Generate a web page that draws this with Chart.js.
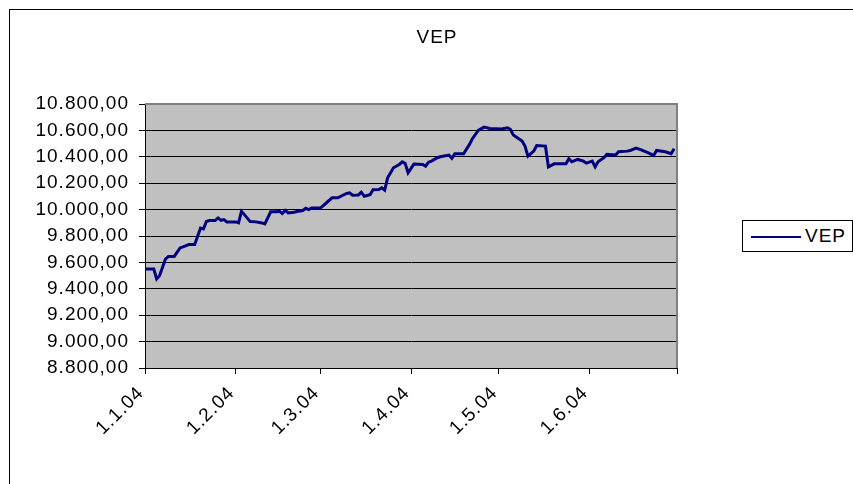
<!DOCTYPE html>
<html>
<head>
<meta charset="utf-8">
<script src="https://cdn.jsdelivr.net/npm/chart.js@4.4.1/dist/chart.umd.min.js"></script>
<style>
  html, body { margin: 0; padding: 0; background: #fff; }
  #wrap { position: relative; width: 853px; height: 484px; overflow: hidden;
          font-family: "Liberation Sans", Arial, sans-serif; color: #000; }
  #frame { position: absolute; left: 9px; top: 9px; width: 900px; height: 520px; border: 1px solid #000; }
  #chart { position: absolute; left: 0; top: 0; }
  #title { position: absolute; left: 0; top: 26px; width: 874px; text-align: center;
           font-size: 19px; letter-spacing: 1px; }
  #legend { position: absolute; left: 742px; top: 220px; width: 111px; height: 32px;
            border: 1px solid #000; box-sizing: border-box; background: #fff; }
  #legend .sample { position: absolute; left: 8px; top: 15px; width: 50px; height: 2px; background: #000080; }
  #legend .label { position: absolute; left: 62px; top: 4px; font-size: 19px; letter-spacing: 1px; }
</style>
</head>
<body>
<div id="wrap">
  <div id="frame"></div>
  <canvas id="chart" width="853" height="484"></canvas>
  <div id="title">VEP</div>
  <div id="legend"><div class="sample"></div><div class="label">VEP</div></div>
</div>
<script>
// ---- data ----
const dates = [
  '2004-01-01','2004-01-04','2004-01-05','2004-01-06','2004-01-08','2004-01-09','2004-01-11','2004-01-13',
  '2004-01-14','2004-01-16','2004-01-18','2004-01-20','2004-01-21','2004-01-22','2004-01-23','2004-01-25',
  '2004-01-26','2004-01-27','2004-01-28','2004-01-29',
  '2004-02-01','2004-02-02','2004-02-03','2004-02-04','2004-02-06','2004-02-08','2004-02-10','2004-02-11',
  '2004-02-13','2004-02-15','2004-02-16','2004-02-17','2004-02-18','2004-02-19','2004-02-21','2004-02-22',
  '2004-02-24','2004-02-25','2004-02-26','2004-02-27',
  '2004-03-01','2004-03-03','2004-03-05','2004-03-07','2004-03-08','2004-03-10','2004-03-11','2004-03-12',
  '2004-03-14','2004-03-15','2004-03-16','2004-03-18','2004-03-19','2004-03-21','2004-03-22','2004-03-23',
  '2004-03-24','2004-03-26','2004-03-28','2004-03-29','2004-03-30','2004-03-31',
  '2004-04-02','2004-04-05','2004-04-06','2004-04-07','2004-04-08','2004-04-10','2004-04-11','2004-04-14',
  '2004-04-15','2004-04-16','2004-04-18','2004-04-19','2004-04-21','2004-04-22','2004-04-24','2004-04-26',
  '2004-04-28','2004-04-30',
  '2004-05-02','2004-05-04','2004-05-05','2004-05-06','2004-05-09','2004-05-10','2004-05-11','2004-05-13',
  '2004-05-14','2004-05-17','2004-05-18','2004-05-20','2004-05-21','2004-05-24','2004-05-25','2004-05-26',
  '2004-05-28','2004-05-30','2004-05-31',
  '2004-06-02','2004-06-03','2004-06-04','2004-06-06','2004-06-07','2004-06-10','2004-06-11','2004-06-14',
  '2004-06-15','2004-06-17','2004-06-19','2004-06-21','2004-06-23','2004-06-24','2004-06-27','2004-06-29',
  '2004-06-30'
];

const vep = [
  9550, 9550, 9474, 9500, 9625, 9645, 9645, 9710,
  9718, 9735, 9735, 9860, 9853, 9910, 9917, 9917,
  9937, 9919, 9924, 9907,
  9907, 9900, 9987, 9962, 9909, 9907, 9899, 9891,
  9983, 9983, 9987, 9970, 9995, 9975, 9980, 9985,
  9993, 10010, 10000, 10013,
  10012, 10050, 10089, 10089, 10101, 10122, 10127, 10109,
  10111, 10132, 10101, 10112, 10150, 10152, 10165, 10147,
  10241, 10317, 10342, 10362, 10350, 10279,
  10345, 10342, 10329, 10359, 10367, 10393, 10400, 10413,
  10388, 10423, 10423, 10423, 10494, 10537, 10600, 10625,
  10615, 10613,
  10610, 10620, 10608, 10565, 10519, 10481, 10405, 10443,
  10486, 10481, 10324, 10347, 10347, 10347, 10385, 10362,
  10380, 10367, 10352,
  10367, 10324, 10362, 10393, 10418, 10413, 10438, 10443,
  10448, 10466, 10451, 10431, 10410, 10448, 10438, 10423,
  10461
];

// month-start ticks, as days since 1.1.2004
const tickDays = [0, 31, 60, 91, 121, 152, 182];
const tickLabels = ['1.1.04', '1.2.04', '1.3.04', '1.4.04', '1.5.04', '1.6.04', ''];

const yMin = 8800, yMax = 10800, yStep = 200;

/* ===============================
   HELPERS
=============================== */
const dayOf = iso => {
  const [y, m, d] = iso.split('-').map(Number);
  return (Date.UTC(y, m - 1, d) - Date.UTC(2004, 0, 1)) / 86400000;
};

// 10800 -> "10.800,00"
const fmtDe = v => {
  const int = Math.round(v).toString().replace(/\B(?=(\d{3})+(?!\d))/g, '.');
  return int + ',00';
};

const points = dates.map((d, i) => ({ x: dayOf(d), y: vep[i] }));

const plotBg = {
  id: 'plotBg',
  beforeDraw(chart) {
    const { ctx, chartArea: a } = chart;
    ctx.letterSpacing = '1px';
    ctx.save();
    ctx.fillStyle = '#c0c0c0';
    ctx.fillRect(a.left, a.top, a.right - a.left, a.bottom - a.top);
    ctx.restore();
  },
  afterDatasetsDraw(chart) {
    const { ctx, chartArea: a } = chart;
    ctx.save();
    ctx.strokeStyle = '#808080';
    ctx.lineWidth = 2;
    ctx.beginPath();
    ctx.moveTo(a.left, a.top);
    ctx.lineTo(a.right, a.top);
    ctx.lineTo(a.right, a.bottom);
    ctx.stroke();
    ctx.restore();
  }
};

const tickFont = { family: '"Liberation Sans", Arial, sans-serif', size: 19 };

new Chart(document.getElementById('chart'), {
  type: 'line',
  data: {
    datasets: [{
      label: 'VEP',
      data: points,
      borderColor: '#000080',
      borderWidth: 3,
      pointRadius: 0,
      tension: 0,
      fill: false
    }]
  },
  options: {
    responsive: false,
    animation: false,
    layout: { padding: { left: 0, top: 104, right: 176, bottom: 0 } },
    plugins: {
      legend: { display: false },
      title: { display: false },
      tooltip: { enabled: false }
    },
    scales: {
      x: {
        type: 'linear',
        min: tickDays[0],
        max: tickDays[tickDays.length - 1],
        afterBuildTicks: s => { s.ticks = tickDays.map(v => ({ value: v })); },
        afterFit: s => { s.height = 116; },
        grid: { drawOnChartArea: false, drawTicks: true, tickLength: 6, tickColor: '#000', tickWidth: 1 },
        border: { color: '#000', width: 1 },
        ticks: {
          autoSkip: false,
          minRotation: 45,
          maxRotation: 45,
          padding: 8,
          labelOffset: -4,
          color: '#000',
          font: tickFont,
          callback: v => tickLabels[tickDays.indexOf(v)] ?? ''
        }
      },
      y: {
        min: yMin,
        max: yMax,
        afterFit: s => { s.width = 145; },
        grid: { color: '#000', lineWidth: 1, drawTicks: true, tickLength: 6, tickColor: '#000' },
        border: { color: '#000', width: 1 },
        ticks: {
          stepSize: yStep,
          padding: 10,
          color: '#000',
          font: tickFont,
          callback: v => fmtDe(v)
        }
      }
    }
  },
  plugins: [plotBg]
});
</script>
</body>
</html>
